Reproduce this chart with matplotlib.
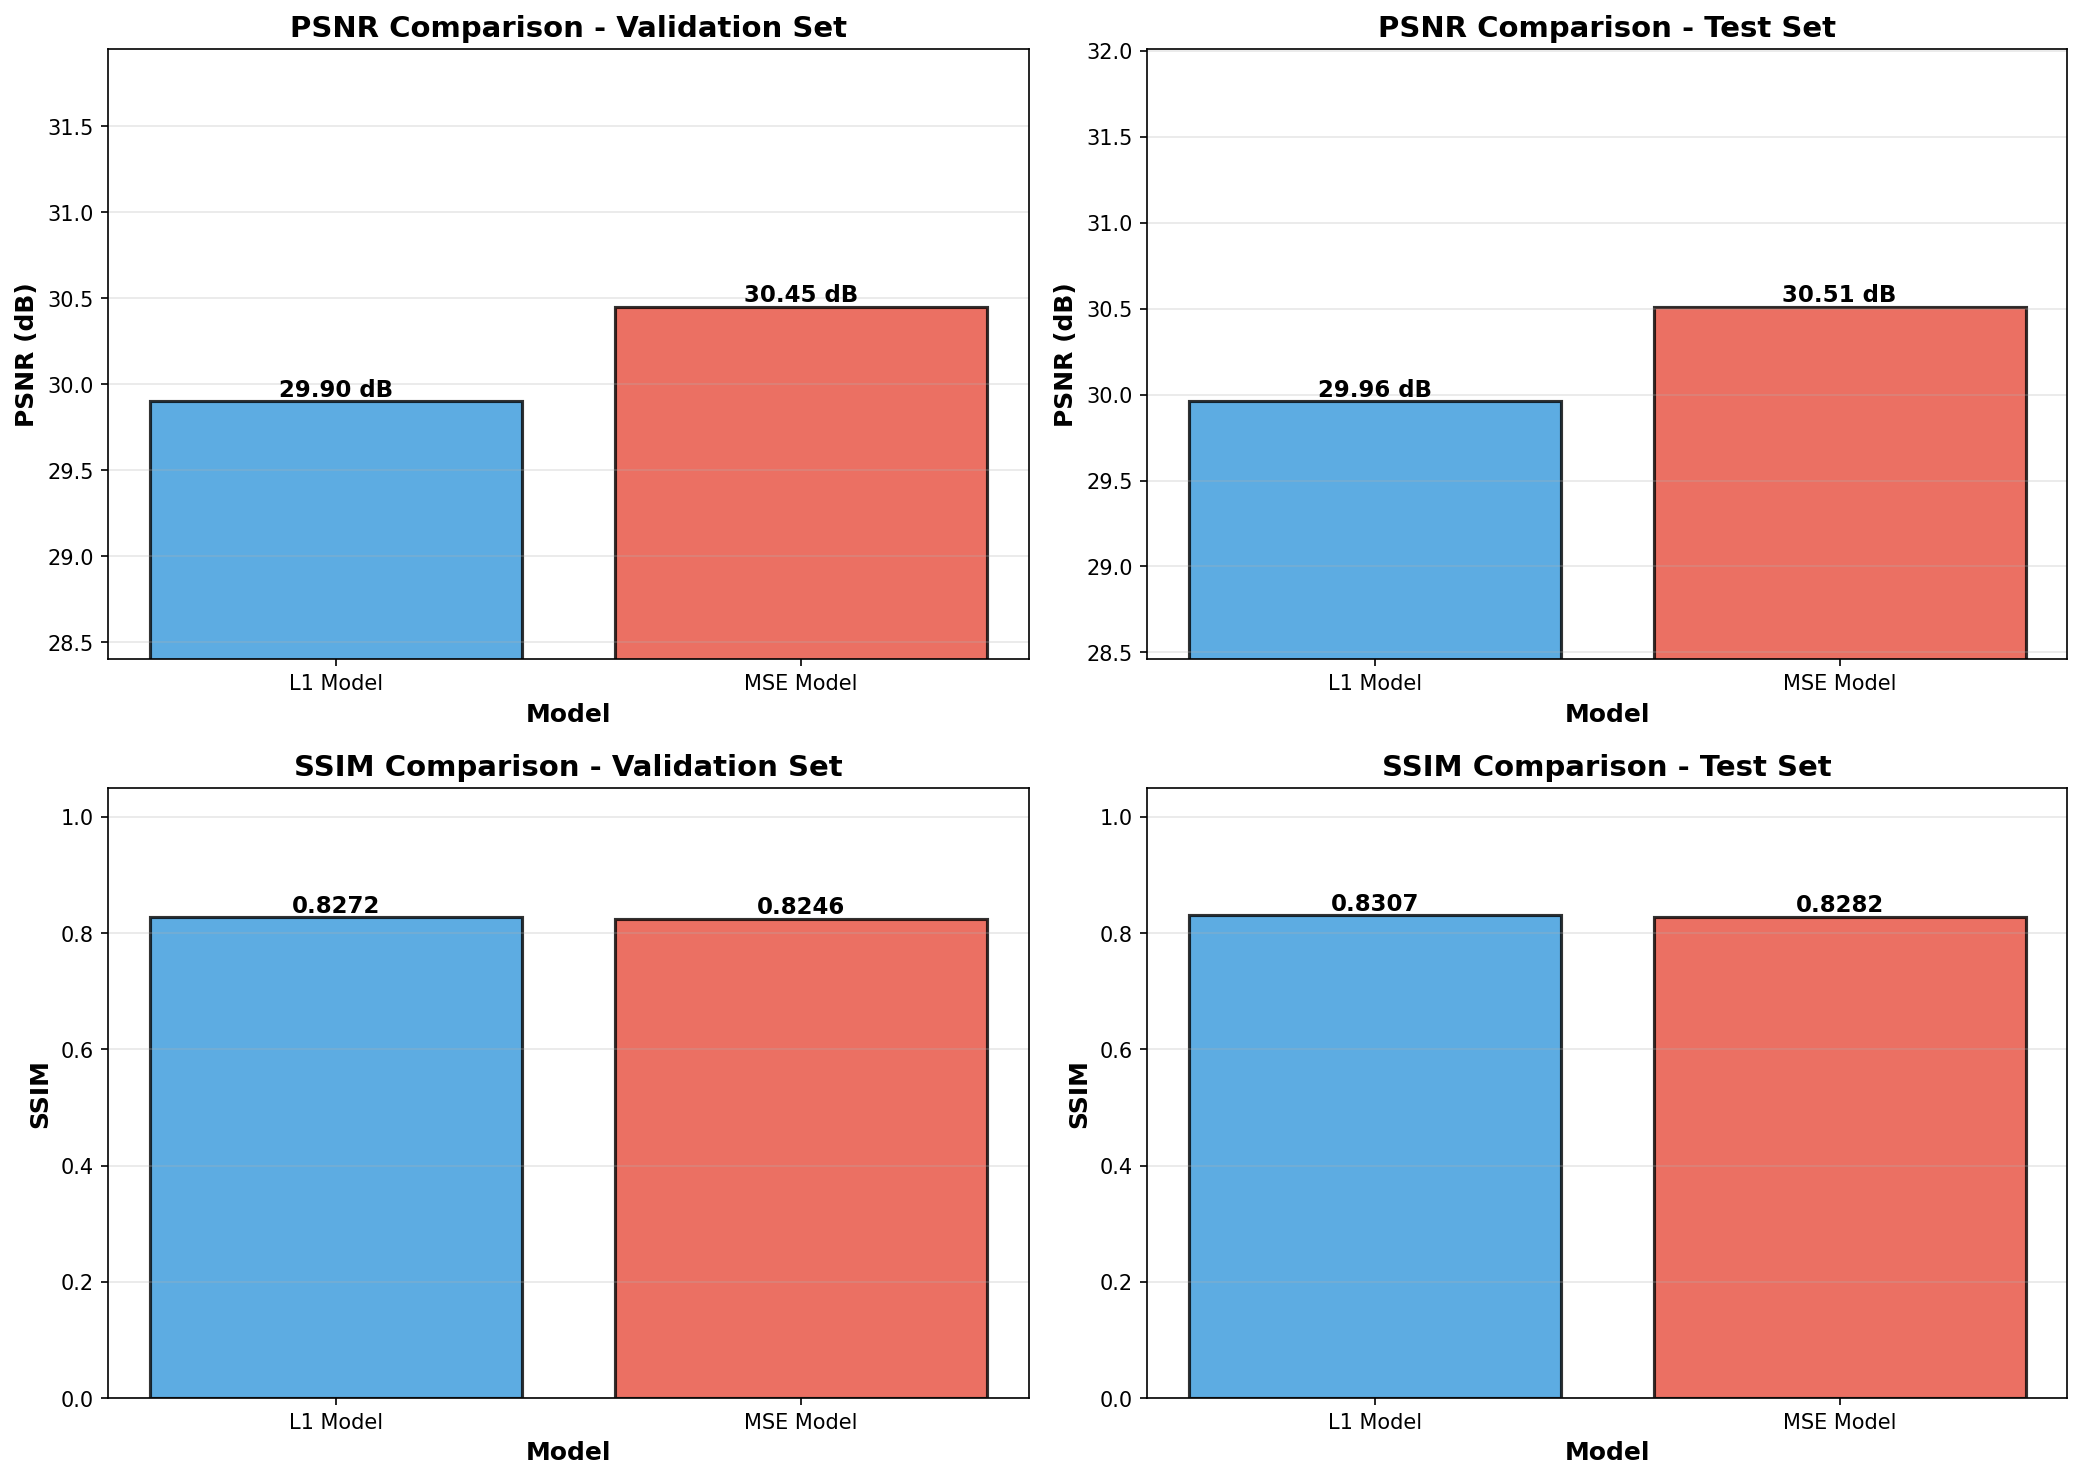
import matplotlib
matplotlib.use("Agg")
import matplotlib.pyplot as plt
import numpy as np

models = ['L1 Model', 'MSE Model']
psnr_val = [29.90, 30.45]
psnr_test = [29.96, 30.51]
ssim_val = [0.8272, 0.8246]
ssim_test = [0.8307, 0.8282]

colors = ['#3498db', '#e74c3c']

fig, axes = plt.subplots(2, 2, figsize=(14, 10))


def draw(ax, vals, title, ylabel, fmt, psnr=True):
    bars = ax.bar(models, vals, color=colors, alpha=0.8, edgecolor='black', linewidth=1.5)
    ax.set_title(title, fontsize=14, fontweight='bold')
    ax.set_xlabel('Model', fontsize=12, fontweight='bold')
    ax.set_ylabel(ylabel, fontsize=12, fontweight='bold')
    ax.grid(axis='y', alpha=0.3)
    if psnr:
        ax.set_ylim(min(vals) - 1.5, max(vals) + 1.5)
    else:
        ax.set_ylim(0, 1.05)
    for b, v in zip(bars, vals):
        ax.text(b.get_x() + b.get_width() / 2, b.get_height(), fmt.format(v),
                ha='center', va='bottom', fontweight='bold', fontsize=11)


draw(axes[0, 0], psnr_val, 'PSNR Comparison - Validation Set', 'PSNR (dB)', '{:.2f} dB')
draw(axes[0, 1], psnr_test, 'PSNR Comparison - Test Set', 'PSNR (dB)', '{:.2f} dB')
draw(axes[1, 0], ssim_val, 'SSIM Comparison - Validation Set', 'SSIM', '{:.4f}', psnr=False)
draw(axes[1, 1], ssim_test, 'SSIM Comparison - Test Set', 'SSIM', '{:.4f}', psnr=False)

plt.tight_layout()
plt.savefig('out.png', dpi=150, bbox_inches='tight')
